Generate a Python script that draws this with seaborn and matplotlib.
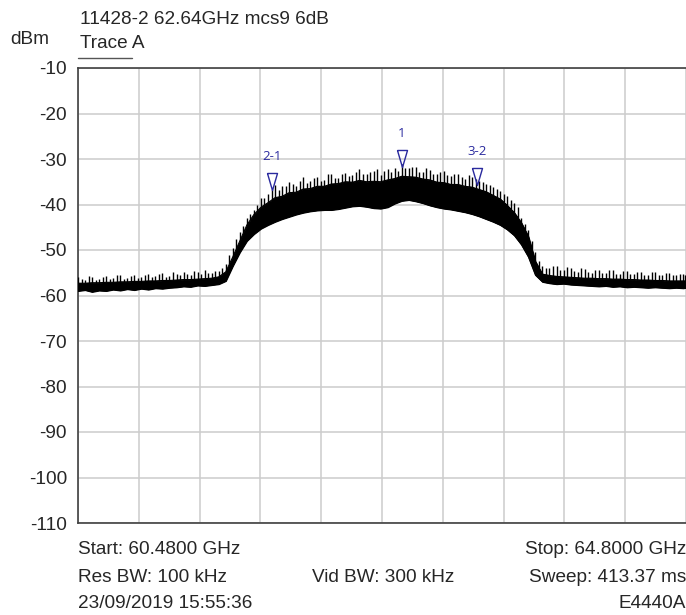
import numpy as np
import pandas as pd
import matplotlib
matplotlib.use("Agg")
import matplotlib.pyplot as plt
import seaborn as sns

# ---- data ----
freq_ghz = [60.48, 60.53, 60.58, 60.63, 60.68, 60.73, 60.78, 60.83, 60.88, 60.93,
            60.98, 61.03, 61.08, 61.13, 61.18, 61.23, 61.28, 61.33, 61.38, 61.43,
            61.48, 61.53, 61.58, 61.63, 61.68, 61.73, 61.78, 61.83, 61.88, 61.93,
            61.98, 62.03, 62.08, 62.13, 62.18, 62.23, 62.28, 62.33, 62.38, 62.43,
            62.48, 62.53, 62.58, 62.63, 62.68, 62.73, 62.78, 62.83, 62.88, 62.93,
            62.98, 63.03, 63.08, 63.13, 63.18, 63.23, 63.28, 63.33, 63.38, 63.43,
            63.48, 63.53, 63.58, 63.63, 63.68, 63.73, 63.78, 63.83, 63.88, 63.93,
            63.98, 64.03, 64.08, 64.13, 64.18, 64.23, 64.28, 64.33, 64.38, 64.43,
            64.48, 64.53, 64.58, 64.63, 64.68, 64.73, 64.78, 64.80]
# lower edge of the dense trace
trace_low_dbm = [-59.0, -58.8, -59.2, -58.9, -59.0, -58.7, -58.9, -58.6, -58.8, -58.5,
                 -58.7, -58.4, -58.5, -58.3, -58.2, -58.0, -58.1, -57.8, -57.9, -57.7,
                 -57.5, -56.8, -53.5, -50.5, -48.0, -46.5, -45.3, -44.5, -43.8, -43.2,
                 -42.7, -42.2, -41.8, -41.5, -41.3, -41.2, -41.2, -41.0, -40.7, -40.4,
                 -40.3, -40.5, -40.8, -40.9, -40.6, -39.8, -39.2, -39.0, -39.3, -39.7,
                 -40.2, -40.6, -40.9, -41.1, -41.4, -41.7, -42.1, -42.6, -43.2, -43.8,
                 -44.5, -45.5, -46.8, -48.8, -51.5, -55.5, -57.0, -57.3, -57.5, -57.4,
                 -57.6, -57.7, -57.8, -57.9, -58.0, -57.9, -58.1, -58.0, -58.2, -58.1,
                 -58.2, -58.3, -58.2, -58.3, -58.4, -58.3, -58.4, -58.3]
# top of the dense core of the trace
trace_core_dbm = [-57.3, -57.3, -57.2, -57.2, -57.1, -57.1, -57.0, -57.0, -56.9, -56.9,
                  -56.8, -56.8, -56.7, -56.7, -56.6, -56.5, -56.5, -56.4, -56.3, -56.2,
                  -55.9, -54.8, -51.5, -48.0, -44.5, -42.2, -40.6, -39.6, -38.5, -38.2,
                  -37.4, -37.3, -36.6, -36.5, -36.0, -36.0, -35.5, -35.4, -35.0, -35.1,
                  -34.7, -35.0, -34.9, -35.0, -34.6, -34.3, -33.8, -33.9, -34.0, -34.4,
                  -34.6, -35.1, -35.2, -35.6, -35.6, -36.0, -36.2, -36.7, -37.2, -38.0,
                  -38.8, -40.2, -41.8, -44.0, -47.0, -52.5, -55.3, -55.6, -55.8, -55.9,
                  -56.0, -56.1, -56.2, -56.2, -56.3, -56.3, -56.4, -56.4, -56.5, -56.5,
                  -56.6, -56.6, -56.7, -56.7, -56.8, -56.8, -56.8, -56.8]
# spike peaks at each sweep point
spike_peak_dbm = [-56.0, -56.6, -55.9, -56.3, -55.7, -56.2, -55.5, -56.1, -55.6, -56.0,
                  -55.2, -55.8, -55.1, -55.7, -55.2, -54.8, -55.4, -54.9, -54.5, -55.1,
                  -54.6, -53.0, -49.5, -46.0, -43.0, -41.2, -38.5, -37.6, -35.8, -35.9,
                  -35.0, -35.9, -34.0, -34.8, -34.0, -34.6, -33.4, -34.2, -33.0, -33.6,
                  -32.2, -33.2, -32.6, -33.5, -32.2, -32.0, -31.2, -32.0, -31.8, -32.8,
                  -32.4, -33.4, -32.6, -33.8, -33.4, -34.4, -34.0, -34.9, -35.4, -36.2,
                  -37.0, -38.2, -39.6, -43.0, -45.6, -50.5, -53.5, -54.0, -53.6, -54.5,
                  -54.0, -54.8, -54.2, -55.0, -54.4, -55.1, -54.3, -55.2, -54.6, -55.3,
                  -54.8, -55.4, -54.9, -55.5, -55.0, -55.6, -55.2, -55.5]
# spike peaks half-way between sweep points
spike_mid_dbm = [-56.4, -55.8, -56.5, -56.0, -56.4, -55.6, -56.3, -55.8, -56.2, -55.4,
                 -56.0, -55.3, -55.9, -54.9, -55.6, -55.3, -54.6, -55.2, -55.0, -54.7,
                 -54.0, -51.0, -47.5, -44.8, -42.0, -40.0, -38.6, -36.6, -36.8, -36.0,
                 -35.6, -34.8, -35.2, -34.2, -34.8, -33.4, -34.2, -33.2, -33.8, -32.8,
                 -33.4, -32.8, -32.2, -32.6, -32.8, -32.6, -32.0, -31.8, -32.8, -32.0,
                 -33.2, -32.8, -33.6, -33.2, -34.0, -33.6, -34.5, -35.0, -35.8, -36.6,
                 -37.6, -39.0, -40.6, -44.2, -48.0, -52.5, -54.0, -53.6, -54.4, -53.8,
                 -54.6, -54.0, -54.9, -54.3, -55.0, -54.5, -55.2, -54.6, -55.3, -54.8,
                 -55.4, -54.9, -55.5, -55.0, -55.6, -55.2, -55.5]

marker_labels = ["2-1", "1", "3-2"]
marker_freq_ghz = [61.858, 62.78, 63.313]
marker_level_dbm = [-36.8, -31.8, -35.7]

y_ticks = [-10, -20, -30, -40, -50, -60, -70, -80, -90, -100, -110]

title_text = "11428-2 62.64GHz mcs9 6dB"
unit_text = "dBm"
trace_name = "Trace A"
footer_rows = [("Start: 60.4800 GHz", "", "Stop: 64.8000 GHz"),
               ("Res BW: 100 kHz", "Vid BW: 300 kHz", "Sweep: 413.37 ms"),
               ("23/09/2019 15:55:36", "", "E4440A")]

f_start, f_stop = 60.48, 64.80

# ---- figure ----
sns.set_theme(style="white")
plt.rcParams["font.family"] = ["Liberation Sans", "DejaVu Sans"]
FS = 13.7

fig = plt.figure(figsize=(6.86, 6.15), dpi=100)
ax = fig.add_axes([78 / 686, 1 - 523 / 615, 1 - 78 / 686, (523 - 68) / 615])

df = pd.DataFrame({"freq": freq_ghz, "low": trace_low_dbm, "core": trace_core_dbm,
                   "peak": spike_peak_dbm})
ax.fill_between(df["freq"], df["low"], df["core"], color="black", linewidth=0.8,
                edgecolor="black", zorder=3)
sns.lineplot(data=df, x="freq", y="core", ax=ax, color="black", linewidth=0.8, zorder=3)
sns.lineplot(data=df, x="freq", y="low", ax=ax, color="black", linewidth=0.8, zorder=3)

# thin spikes above the dense core
ax.vlines(df["freq"], df["core"], df["peak"], color="black", linewidth=1.0, zorder=3)
f_arr = np.asarray(freq_ghz)
core_arr = np.asarray(trace_core_dbm)
mid_f = (f_arr[:-1] + f_arr[1:]) / 2
mid_core = (core_arr[:-1] + core_arr[1:]) / 2
ax.vlines(mid_f, mid_core, spike_mid_dbm, color="black", linewidth=1.0, zorder=3)

ax.set_xlim(f_start, f_stop)
ax.set_ylim(-110, -10)
ax.set_xticks(np.linspace(f_start, f_stop, 11))
ax.set_xticklabels([])
ax.set_yticks(y_ticks)
ax.set_yticklabels([str(v) for v in y_ticks], fontsize=FS)
ax.tick_params(axis="both", length=0, pad=8)
ax.set_xlabel("")
ax.set_ylabel("")
ax.grid(True, color="#cccccc", linewidth=1.1, zorder=0)
ax.set_axisbelow(True)
for side in ["left", "top", "bottom"]:
    ax.spines[side].set_color("#404040")
    ax.spines[side].set_linewidth(1.2)
ax.spines["right"].set_visible(False)

# markers (open down-triangles with tip on the trace)
tri = [(-5, 17), (5, 17), (0, 0), (-5, 17)]
mcol = "#2a2a9e"
for lab, f, lv in zip(marker_labels, marker_freq_ghz, marker_level_dbm):
    ax.plot([f], [lv], marker=tri, markersize=24.5, markerfacecolor="none",
            markeredgecolor=mcol, markeredgewidth=1.0, linestyle="none", zorder=5)
    ax.annotate(lab, (f, lv), xytext=(0, 24), textcoords="offset points",
                ha="center", va="center", fontsize=9.5, color=mcol,
                family=["Open Sans", "DejaVu Sans"], zorder=6)

# header texts
fig.text(80 / 686, 1 - 20 / 615, title_text, fontsize=FS, ha="left", va="center")
fig.text(10 / 686, 1 - 39 / 615, unit_text, fontsize=FS, ha="left", va="center")
fig.text(80 / 686, 1 - 44 / 615, trace_name, fontsize=FS, ha="left", va="center")
fig.add_artist(plt.Line2D([78 / 686, 132 / 686], [1 - 58 / 615, 1 - 58 / 615],
                          color="#555555", linewidth=1.0))

# footer texts
row_y = [550, 577, 603]
for (lt, ct, rt), yy in zip(footer_rows, row_y):
    fig.text(78 / 686, 1 - yy / 615, lt, fontsize=FS, ha="left", va="center")
    if ct:
        fig.text(383 / 686, 1 - yy / 615, ct, fontsize=FS, ha="center", va="center")
    fig.text(686 / 686, 1 - yy / 615, rt, fontsize=FS, ha="right", va="center")

fig.savefig("out.png", dpi=100)
